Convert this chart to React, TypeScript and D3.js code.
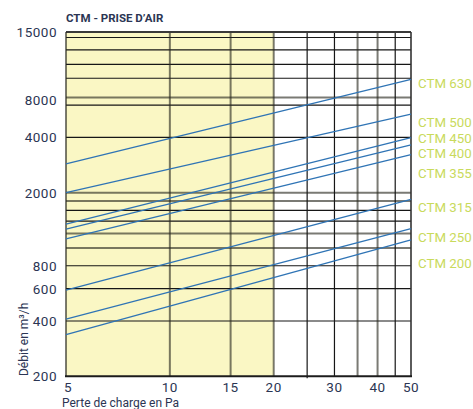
import React from "react";
import * as d3 from "d3";

const title = "CTM - PRISE D’AIR";
const xLabel = "Perte de charge en Pa";
const yLabel = "Débit en m³/h";

const xDomain = [5, 50];
const yDomain = [200, 15000];

const xTickValues = [5, 10, 15, 20, 30, 40, 50];
const yTickValues = [200, 400, 600, 800, 2000, 4000, 6400, 15000];
const yTickLabels = ["200", "400", "600", "800", "2000", "4000", "8000", "15000"];

const xGridDark = [10, 15, 20, 35, 40];
const xGridBlack = [25, 30, 45];
const yGridDark = [1000, 1200, 1800, 2000, 6600];
const yGridBlack = [400, 600, 800, 1400, 1600, 4000, 6000, 8400, 10000, 12000, 14000];

const comfortZone = [5, 20];

const seriesNames = ["CTM 630", "CTM 500", "CTM 450", "CTM 400", "CTM 355", "CTM 315", "CTM 250", "CTM 200"];
const flowAt5 = [2870, 2000, 1350, 1265, 1120, 590, 410, 337];
const flowAt50 = [8290, 5350, 3990, 3640, 3220, 1840, 1275, 1105];
const labelFlow = [7900, 4850, 3970, 3290, 2560, 1670, 1150, 830];

const W = 473;
const H = 409;
const left = 66;
const right = 411;
const top = 32;
const bottom = 376.3;

export default function App() {
  const x = d3.scaleLog().domain(xDomain).range([left, right]);
  const y = d3.scaleLog().domain(yDomain).range([bottom, top]);
  const line = d3
    .line<[number, number]>()
    .x((d) => x(d[0]))
    .y((d) => y(d[1]));

  const navy = "#2b3553";
  const dark = "rgba(40,40,30,0.62)";
  const black = "#161616";
  const font = "Roboto, 'DejaVu Sans', sans-serif";

  return (
    <svg
      width={W}
      height={H}
      style={{ position: "absolute", left: 0, top: 0, background: "#fff" }}
      fontFamily={font}
    >
      <rect
        x={x(comfortZone[0])}
        y={top}
        width={x(comfortZone[1]) - x(comfortZone[0])}
        height={bottom - top}
        fill="#faf7c4"
      />
      {yGridBlack.map((v) => (
        <line key={"hb" + v} x1={left} x2={right} y1={y(v)} y2={y(v)} stroke={black} strokeWidth={1.2} />
      ))}
      {yGridDark.map((v) => (
        <line key={"hd" + v} x1={left} x2={right} y1={y(v)} y2={y(v)} stroke={dark} strokeWidth={2} />
      ))}
      {xGridBlack.map((v) => (
        <line key={"vb" + v} x1={x(v)} x2={x(v)} y1={top} y2={bottom + (v === 25 ? 2 : 0)} stroke={black} strokeWidth={1.2} />
      ))}
      {xGridDark.map((v) => (
        <line key={"vd" + v} x1={x(v)} x2={x(v)} y1={top} y2={bottom} stroke={dark} strokeWidth={2} />
      ))}
      {/* borders */}
      <line x1={left} x2={right} y1={top} y2={top} stroke="#3a3a3a" strokeWidth={2} />
      <line x1={left} x2={left} y1={top} y2={bottom} stroke={dark} strokeWidth={2} />
      <line x1={right} x2={right} y1={top} y2={bottom} stroke="#333" strokeWidth={1.6} />
      <line x1={left - 1} x2={right + 1} y1={bottom} y2={bottom} stroke="#1c1c1c" strokeWidth={2} />

      {seriesNames.map((n, i) => (
        <path
          key={n}
          d={line([
            [xDomain[0], flowAt5[i]],
            [xDomain[1], flowAt50[i]],
          ]) as string}
          fill="none"
          stroke="#2f74b5"
          strokeWidth={1.3}
        />
      ))}
      {seriesNames.map((n, i) => (
        <text
          key={"l" + n}
          x={right + 7}
          y={y(labelFlow[i])}
          dy="0.36em"
          fill="#c9da5c"
          fontSize={13.3}
        >
          {n}
        </text>
      ))}

      {yTickValues.map((v, i) => (
        <text key={"yt" + v} x={57} y={y(v)} dy="0.36em" textAnchor="end" fill={navy} fontSize={13.5} letterSpacing={0.5}>
          {yTickLabels[i]}
        </text>
      ))}
      {xTickValues.map((v) => (
        <text key={"xt" + v} x={x(v) + (v === 5 ? 2 : 0)} y={392} textAnchor="middle" fill={navy} fontSize={13.5} letterSpacing={0.5}>
          {v}
        </text>
      ))}
      <text x={left} y={22} fill={navy} fontSize={11.5} fontWeight={700}>
        {title}
      </text>
      <text x={62} y={406.5} fill={navy} fontSize={12}>
        {xLabel}
      </text>
      <text transform="translate(28,376) rotate(-90)" fill={navy} fontSize={12}>
        {yLabel}
      </text>
    </svg>
  );
}
